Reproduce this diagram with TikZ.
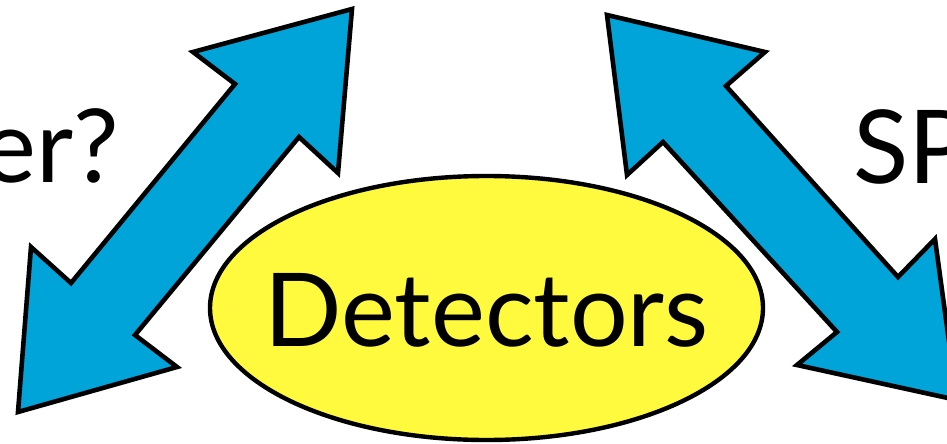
\documentclass[tikz,border=0pt]{standalone}
\usepackage{fontspec}
\setmainfont{Lato}
\usetikzlibrary{shapes.geometric}
\definecolor{arrowblue}{RGB}{0,164,216}
\definecolor{detyellow}{RGB}{255,250,62}
\tikzset{
  bigarrow/.style={draw=black, fill=arrowblue, line width=4.6pt, line join=miter},
  bigtext/.style={inner sep=0pt, outer sep=0pt, font=\fontsize{102}{110}\selectfont, text=black},
}
\begin{document}
\begin{tikzpicture}[x=1pt,y=-1pt]
\useasboundingbox (0,0) rectangle (947,444);
\clip (0,0) rectangle (947,444);
% left double arrow
\path[bigarrow] (352,9) -- (193,52) -- (235,84) -- (71,283) -- (31,247) -- (18,412)
  -- (177,367) -- (135,335) -- (299,137) -- (338,173) -- cycle;
% right double arrow
\path[bigarrow] (607,15) -- (765,52) -- (726,86) -- (898,277) -- (935,239) -- (957,400)
  -- (797,365) -- (837,332) -- (663,142) -- (627,175) -- cycle;
% ellipse
\node[ellipse, draw=black, fill=detyellow, line width=4.4pt, inner sep=0pt, outer sep=0pt,
  minimum width=553pt, minimum height=264pt] (det) at (486.5,308) {};
\node[bigtext, anchor=base] (dettext) at (486.5,346) {Detectors};
% partial labels
\node[bigtext, anchor=base east] (lefttext) at (119,182) {er?};
\node[bigtext, anchor=base west] (righttext) at (853,183) {SP};
\end{tikzpicture}
\end{document}
